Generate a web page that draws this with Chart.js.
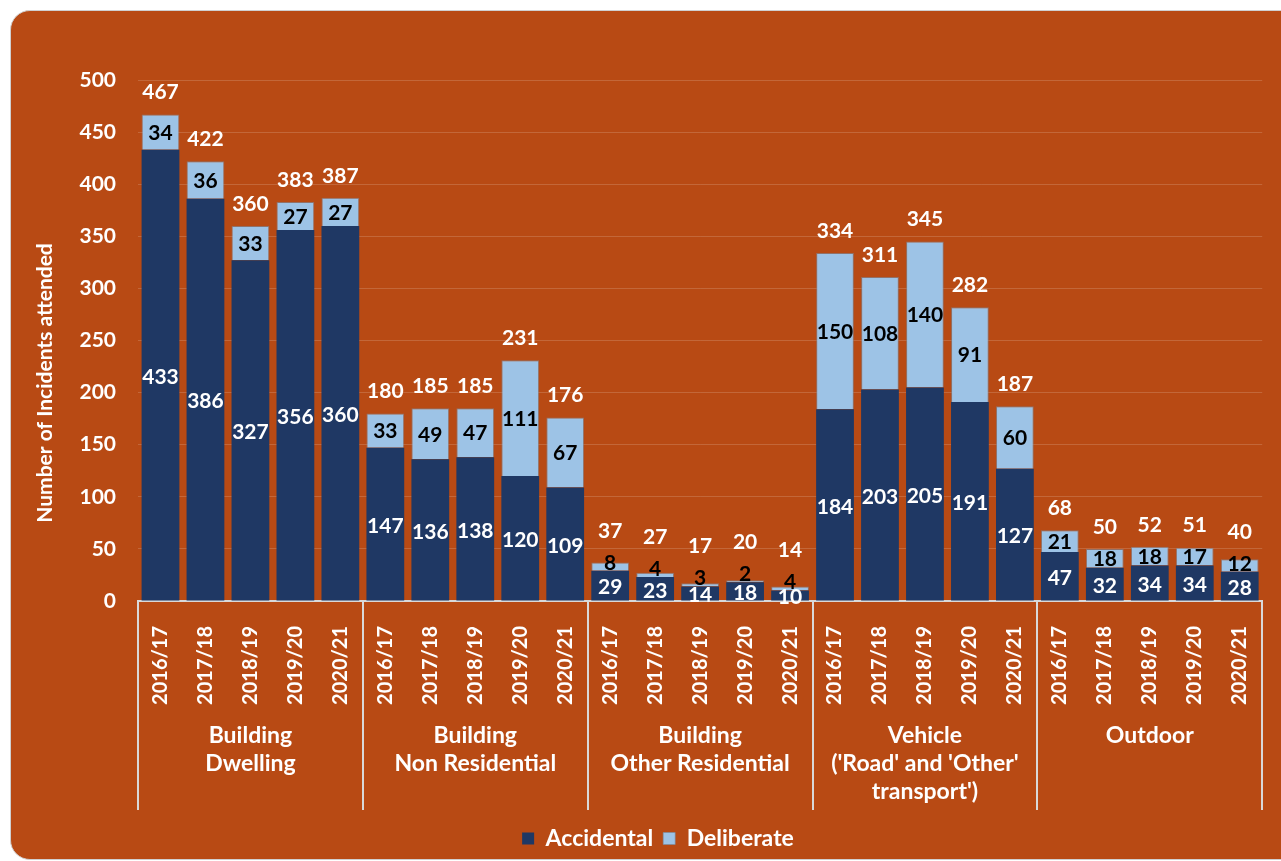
<!DOCTYPE html>
<html>
<head>
<meta charset="utf-8">
<script src="https://cdn.jsdelivr.net/npm/chart.js@4"></script>
<style>
  body { margin: 0; background: #ffffff; }
  #card {
    position: absolute; left: 10px; top: 10px; width: 1300px; height: 848px;
    background: #B84A14; border: 1px solid #d0d0d0; border-radius: 20px;
  }
  #wrap { position: absolute; left: 0; top: 0; width: 1281px; height: 861px; }
</style>
</head>
<body>
<div id="card"></div>
<div id="wrap"><canvas id="chart"></canvas></div>
<script>
// categories
var years = ["2016/17", "2017/18", "2018/19", "2019/20", "2020/21"];
var groups = [
  ["Building", "Dwelling"],
  ["Building", "Non Residential"],
  ["Building", "Other Residential"],
  ["Vehicle", "('Road' and 'Other'", "transport')"],
  ["Outdoor"]
];

// series values (5 years per group)
var accidental = [433, 386, 327, 356, 360,
                  147, 136, 138, 120, 109,
                  29, 23, 14, 18, 10,
                  184, 203, 205, 191, 127,
                  47, 32, 34, 34, 28];
var deliberate = [34, 36, 33, 27, 27,
                  33, 49, 47, 111, 67,
                  8, 4, 3, 2, 4,
                  150, 108, 140, 91, 60,
                  21, 18, 18, 17, 12];

var fontFam = "Lato, 'Open Sans', sans-serif";
var navy = "#1F3864";
var light = "#9DC3E6";

var labels = [];
groups.forEach(function () {
  years.forEach(function (y) { labels.push(y); });
});

// value labels, group labels, separators, y title
var extras = {
  id: 'extras',
  beforeDraw: function (chart) {
    // legend sits a little right of centre in the original
    if (chart.legend) {
      chart.legend.left += 24;
      chart.legend.right += 24;
    }
  },
  afterDatasetsDraw: function (chart) {
    var ctx = chart.ctx;
    var m0 = chart.getDatasetMeta(0).data;
    var m1 = chart.getDatasetMeta(1).data;
    ctx.save();
    ctx.font = "bold 21px " + fontFam;
    ctx.textAlign = "center";
    ctx.textBaseline = "middle";
    for (var i = 0; i < m0.length; i++) {
      var a = m0[i], d = m1[i];
      var x = a.x;
      // accidental
      ctx.fillStyle = "#ffffff";
      ctx.fillText(accidental[i], x, (a.y + a.base) / 2 + 2);
      // deliberate
      ctx.fillStyle = "#000000";
      ctx.fillText(deliberate[i], x, Math.min((d.y + a.y) / 2 + 1, a.y - 8));
      // total
      ctx.fillStyle = "#ffffff";
      ctx.fillText(accidental[i] + deliberate[i], x, Math.min(d.y - 22, a.y - 40));
    }
    ctx.restore();
  },
  afterDraw: function (chart) {
    var ctx = chart.ctx;
    var xs = chart.scales.x;
    var area = chart.chartArea;
    var step = xs.getPixelForValue(1) - xs.getPixelForValue(0);
    ctx.save();
    ctx.strokeStyle = "#D9D9D9";
    ctx.lineWidth = 2;
    for (var g = 0; g <= groups.length; g++) {
      var sx = Math.round(xs.getPixelForValue(g * 5) - step / 2);
      ctx.beginPath();
      ctx.moveTo(sx, area.bottom);
      ctx.lineTo(sx, 810);
      ctx.stroke();
    }
    ctx.fillStyle = "#ffffff";
    ctx.font = "bold 23px " + fontFam;
    ctx.textAlign = "center";
    ctx.textBaseline = "middle";
    groups.forEach(function (lines, g) {
      var cx = (xs.getPixelForValue(g * 5) + xs.getPixelForValue(g * 5 + 4)) / 2;
      lines.forEach(function (t, k) {
        ctx.fillText(t, cx, 736 + k * 28);
      });
    });
    // y axis title
    ctx.font = "bold 21px " + fontFam;
    ctx.translate(45, 383);
    ctx.rotate(-Math.PI / 2);
    ctx.fillText("Number of Incidents attended", 0, 0);
    ctx.restore();
  }
};

new Chart(document.getElementById('chart'), {
  type: 'bar',
  data: {
    labels: labels,
    datasets: [
      { label: "Accidental", data: accidental, backgroundColor: navy },
      { label: "Deliberate", data: deliberate, backgroundColor: light,
        borderColor: "rgba(120,140,160,0.6)", borderWidth: 1, borderSkipped: 'bottom' }
    ]
  },
  options: {
    responsive: true,
    maintainAspectRatio: false,
    animation: false,
    categoryPercentage: 1,
    barPercentage: 0.84,
    layout: { padding: { top: 80, left: 0, right: 13, bottom: 1 } },
    plugins: {
      tooltip: { enabled: false },
      legend: {
        position: 'bottom',
        labels: {
          color: "#ffffff",
          font: { family: fontFam, size: 23, weight: 'bold' },
          boxWidth: 12, boxHeight: 12, padding: 10
        }
      }
    },
    scales: {
      x: {
        stacked: true,
        grid: { display: false },
        border: { display: true, color: "#D9D9D9", width: 2 },
        ticks: {
          color: "#ffffff", autoSkip: false, minRotation: 90, maxRotation: 90,
          padding: 17, font: { family: fontFam, size: 20, weight: 'bold' }
        },
        afterFit: function (s) { s.height = 216; }
      },
      y: {
        stacked: true,
        min: 0, max: 500,
        grid: { color: "rgba(255,255,255,0.16)", drawTicks: false },
        border: { display: false },
        ticks: {
          stepSize: 50, color: "#ffffff", padding: 22,
          font: { family: fontFam, size: 21, weight: 'bold' }
        },
        afterFit: function (s) { s.width = 138; }
      }
    }
  },
  plugins: [extras]
});
</script>
</body>
</html>
